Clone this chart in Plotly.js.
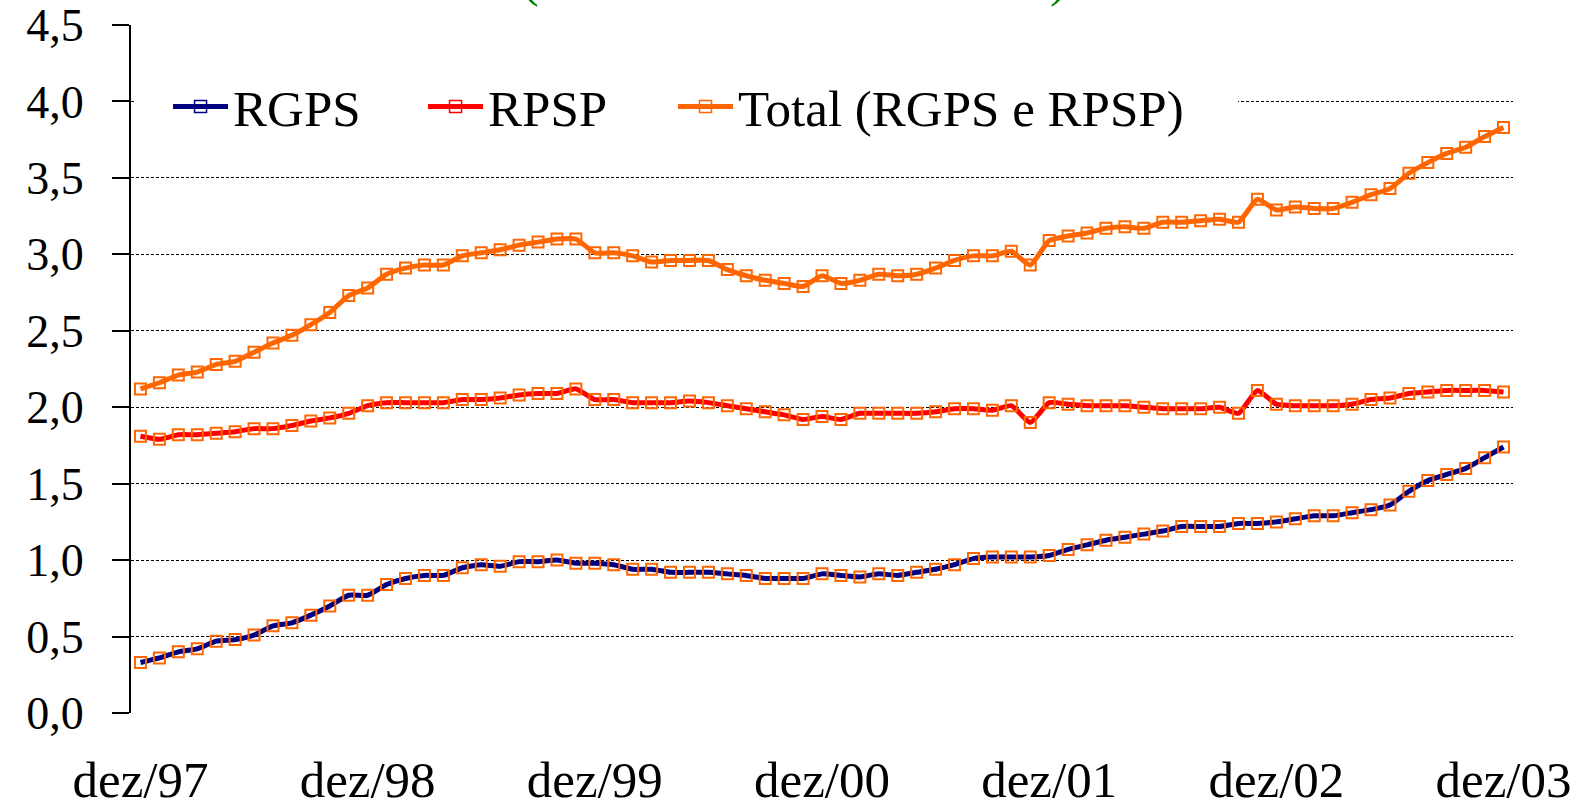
<!DOCTYPE html>
<html>
<head>
<meta charset="utf-8">
<script src="https://cdn.plot.ly/plotly-3.0.1.min.js"></script>
<style>
  html, body { margin: 0; padding: 0; background: #ffffff; }
  #chart { width: 1583px; height: 810px; }
</style>
</head>
<body>
<div id="chart"></div>
<script>
// Months (categories), dez/97 .. dez/03
const months = [
  'dez/97',
  'jan/98','fev/98','mar/98','abr/98','mai/98','jun/98','jul/98','ago/98','set/98','out/98','nov/98','dez/98',
  'jan/99','fev/99','mar/99','abr/99','mai/99','jun/99','jul/99','ago/99','set/99','out/99','nov/99','dez/99',
  'jan/00','fev/00','mar/00','abr/00','mai/00','jun/00','jul/00','ago/00','set/00','out/00','nov/00','dez/00',
  'jan/01','fev/01','mar/01','abr/01','mai/01','jun/01','jul/01','ago/01','set/01','out/01','nov/01','dez/01',
  'jan/02','fev/02','mar/02','abr/02','mai/02','jun/02','jul/02','ago/02','set/02','out/02','nov/02','dez/02',
  'jan/03','fev/03','mar/03','abr/03','mai/03','jun/03','jul/03','ago/03','set/03','out/03','nov/03','dez/03'
];

const rgps = [
  0.33,
  0.36,0.40,0.42,0.47,0.48,0.51,0.57,0.59,0.64,0.70,0.77,0.77,
  0.84,0.88,0.90,0.90,0.95,0.97,0.96,0.99,0.99,1.00,0.98,0.98,
  0.97,0.94,0.94,0.92,0.92,0.92,0.91,0.90,0.88,0.88,0.88,0.91,
  0.90,0.89,0.91,0.90,0.92,0.94,0.97,1.01,1.02,1.02,1.02,1.03,
  1.07,1.10,1.13,1.15,1.17,1.19,1.22,1.22,1.22,1.24,1.24,1.25,
  1.27,1.29,1.29,1.31,1.33,1.36,1.45,1.52,1.56,1.60,1.67,1.74
];

const rpsp = [
  1.81,
  1.79,1.82,1.82,1.83,1.84,1.86,1.86,1.88,1.91,1.93,1.96,2.01,
  2.03,2.03,2.03,2.03,2.05,2.05,2.06,2.08,2.09,2.09,2.12,2.05,
  2.05,2.03,2.03,2.03,2.04,2.03,2.01,1.99,1.97,1.95,1.92,1.94,
  1.92,1.96,1.96,1.96,1.96,1.97,1.99,1.99,1.98,2.01,1.90,2.03,
  2.02,2.01,2.01,2.01,2.00,1.99,1.99,1.99,2.00,1.96,2.11,2.02,
  2.01,2.01,2.01,2.02,2.05,2.06,2.09,2.10,2.11,2.11,2.11,2.10
];

const total = [
  2.12,
  2.16,2.21,2.23,2.28,2.30,2.36,2.42,2.47,2.54,2.62,2.73,2.78,
  2.87,2.91,2.93,2.93,2.99,3.01,3.03,3.06,3.08,3.10,3.10,3.01,
  3.01,2.99,2.95,2.96,2.96,2.96,2.90,2.86,2.83,2.81,2.79,2.86,
  2.81,2.83,2.87,2.86,2.87,2.91,2.96,2.99,2.99,3.02,2.93,3.09,
  3.12,3.14,3.17,3.18,3.17,3.21,3.21,3.22,3.23,3.21,3.36,3.29,
  3.31,3.30,3.30,3.34,3.39,3.43,3.53,3.60,3.66,3.70,3.77,3.83
];

const seriesNames = ['RGPS', 'RPSP', 'Total (RGPS e RPSP)'];
const seriesColors = ['#000080', '#FF0000', '#FF6600'];
const xTickLabels = ['dez/97','dez/98','dez/99','dez/00','dez/01','dez/02','dez/03'];
const yTicks = [0, 0.5, 1, 1.5, 2, 2.5, 3, 3.5, 4, 4.5];

const markerColor = '#FF6600';
const serif = 'Liberation Serif, Times New Roman, serif';

const seriesData = [rgps, rpsp, total];
const legendIds = ['legend', 'legend2', 'legend3'];
const traces = [];
seriesData.forEach((vals, i) => {
  traces.push({
    x: months, y: vals, type: 'scatter', mode: 'lines+markers',
    name: seriesNames[i], showlegend: false,
    line: {color: seriesColors[i], width: 5, shape: 'spline', smoothing: 0.5},
    marker: {symbol: 'square-open', size: 11, color: markerColor, line: {width: 2, color: markerColor}},
    hoverinfo: 'skip'
  });
});
// legend entries (series-coloured markers as in the original legend)
seriesNames.forEach((n, i) => {
  traces.push({
    x: [null], y: [null], type: 'scatter', mode: 'lines+markers', name: n,
    legend: legendIds[i],
    line: {color: seriesColors[i], width: 5},
    marker: {symbol: 'square-open', size: 12, color: seriesColors[i], line: {width: 1.5, color: seriesColors[i]}},
    showlegend: true
  });
});

// tick boundaries (between categories) for the tick-mark axis
const boundaryTicks = [];
for (let k = 0; k < xTickLabels.length; k++) boundaryTicks.push(12 * k - 0.5);

function legendAt(xp) {
  return {
    orientation: 'h', x: xp, xanchor: 'left', y: 0.881, yanchor: 'middle',
    bgcolor: 'rgba(0,0,0,0)', borderwidth: 0, itemwidth: 55,
    font: {family: serif, size: 51, color: '#000000'}
  };
}

const layout = {
  width: 1583, height: 810,
  margin: {l: 131, r: 70, t: 25, b: 97, pad: 0},
  paper_bgcolor: '#ffffff', plot_bgcolor: '#ffffff',
  separators: ',.',
  font: {family: serif, color: '#000000'},
  showlegend: true,
  legend: legendAt(0.0268),
  legend2: legendAt(0.2113),
  legend3: legendAt(0.3922),
  xaxis: {
    type: 'category', range: [-0.5, 72.5], fixedrange: true,
    tickmode: 'array', tickvals: xTickLabels, ticktext: xTickLabels,
    ticks: '', showgrid: false, zeroline: false, showline: false,
    tickfont: {family: serif, size: 51, color: '#000000'},
    ticklabelstandoff: 32
  },
  xaxis2: {
    type: 'linear', overlaying: 'x', anchor: 'y', side: 'bottom',
    range: [-0.5, 72.5], fixedrange: true,
    tickmode: 'array', tickvals: boundaryTicks, showticklabels: false,
    ticks: 'outside', ticklen: 16, tickwidth: 2, tickcolor: '#000000',
    showline: true, linecolor: '#000000', linewidth: 2,
    showgrid: false, zeroline: false
  },
  yaxis: {
    range: [0, 4.5], fixedrange: true,
    tickmode: 'array', tickvals: yTicks, tickformat: '.1f',
    ticks: 'outside', ticklen: 17, tickwidth: 2, tickcolor: '#000000',
    showline: true, linecolor: '#000000', linewidth: 2,
    showgrid: true, gridcolor: '#000000', gridwidth: 1.2, griddash: '3px,2px',
    zeroline: false,
    tickfont: {family: serif, size: 46, color: '#000000'},
    ticklabelstandoff: 19
  },
  shapes: [
    // white backing of the legend row (hides the 4,0 gridline behind the legend)
    {type: 'rect', xref: 'paper', yref: 'y', x0: 0.0036, x1: 0.801, y0: 3.92, y1: 4.08,
     fillcolor: '#ffffff', line: {width: 0}, layer: 'above'}
  ],
  annotations: [
    {text: '(', xref: 'paper', yref: 'paper', x: 0.2967, y: 1.0233, xanchor: 'right', yanchor: 'bottom',
     showarrow: false, font: {family: serif, size: 50, color: '#008000'}},
    {text: ')', xref: 'paper', yref: 'paper', x: 0.6635, y: 1.0233, xanchor: 'left', yanchor: 'bottom',
     showarrow: false, font: {family: serif, size: 50, color: '#008000'}}
  ]
};

Plotly.newPlot('chart', traces, layout, {displayModeBar: false, staticPlot: true});
</script>
</body>
</html>
